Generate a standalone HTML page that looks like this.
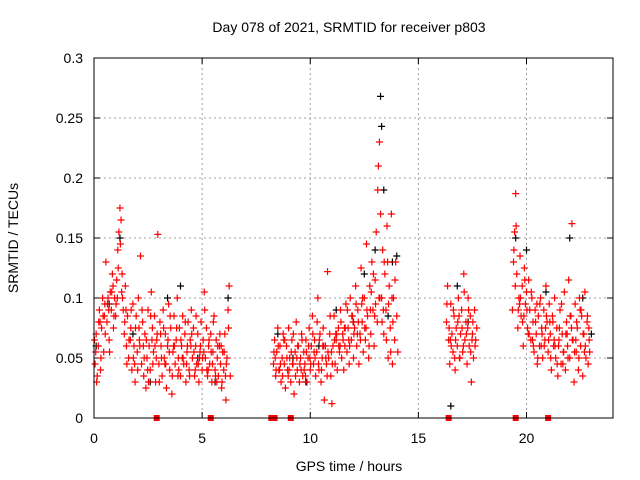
<!DOCTYPE html>
<html><head><meta charset="utf-8"><style>
html,body{margin:0;padding:0;background:#fff;}
svg{display:block;font-family:"Liberation Sans",sans-serif;}
</style></head><body>
<svg id="chart" width="640" height="480" viewBox="0 0 640 480" xmlns="http://www.w3.org/2000/svg">
<rect width="640" height="480" fill="#fff"/>
<text x="349" y="32" font-size="14" text-anchor="middle">Day 078 of 2021, SRMTID for receiver p803</text>
<text transform="translate(18,238) rotate(-90)" font-size="14" text-anchor="middle">SRMTID / TECUs</text>
<text x="349" y="471" font-size="14" text-anchor="middle">GPS time / hours</text>
<g id="grid"></g>
<g id="ticks"></g>
<g id="black"></g>
<g id="red"></g>
<g id="gaps"></g>
<rect x="94" y="58" width="519" height="360" fill="none" stroke="#000" stroke-width="1"/>
</svg>
<script>
const xTicks=[0,5,10,15,20];
const yTicks=[0,0.05,0.1,0.15,0.2,0.25,0.3];
const yTickLabels=["0","0.05","0.1","0.15","0.2","0.25","0.3"];
const redT=[0.05,0.1,0.15,0.2,0.25,0.3,0.35,0.4,0.45,0.5,0.55,0.6,0.65,0.7,0.75,0.8,0.85,0.9,0.95,1.0,1.05,1.1,1.15,1.2,1.25,1.3,1.35,1.4,1.45,1.5,1.55,1.6,1.7,1.75,1.8,1.85,1.9,1.95,2.0,2.05,2.1,2.15,2.2,2.25,2.3,2.35,2.4,2.45,2.5,2.55,2.6,2.65,2.7,2.75,2.8,2.85,2.9,2.95,3.0,3.05,3.1,3.15,3.2,3.25,3.3,3.35,3.4,3.45,3.5,3.55,3.6,3.65,3.7,3.75,3.8,3.85,3.9,3.95,4.0,4.05,4.1,4.15,4.2,4.25,4.3,4.35,4.4,4.45,4.5,4.55,4.6,4.65,4.7,4.75,4.8,4.85,4.9,4.95,5.0,5.05,5.1,5.15,5.2,5.25,5.3,5.35,5.4,5.45,5.5,5.55,5.6,5.65,5.7,5.75,5.8,5.85,5.9,5.95,6.0,6.05,6.1,6.15,6.2,6.25,6.3,
8.3,8.35,8.4,8.45,8.5,8.55,8.6,8.65,8.7,8.75,8.8,8.85,8.9,8.95,9.0,9.05,9.1,9.15,9.2,9.25,9.3,9.35,9.4,9.45,9.5,9.55,9.6,9.65,9.7,9.75,9.8,9.85,9.9,9.95,10.0,10.05,10.1,10.15,10.2,10.25,10.3,10.35,10.4,10.45,10.5,10.55,10.6,10.65,10.7,10.75,10.8,10.85,10.9,10.95,11.0,11.05,11.1,11.15,11.2,11.25,11.3,11.35,11.4,11.45,11.5,11.55,11.6,11.65,11.7,11.75,11.8,11.85,11.9,11.95,12.0,12.05,12.1,12.15,12.2,12.25,12.3,12.35,12.4,12.45,12.5,12.55,12.6,12.65,12.7,12.75,12.8,12.85,12.9,12.95,13.0,13.05,13.1,13.15,13.2,13.25,13.3,13.35,13.4,13.45,13.5,13.55,13.6,13.65,13.7,13.75,13.8,13.85,13.9,13.95,14.0,14.05,
16.3,16.35,16.4,16.45,16.5,16.55,16.6,16.65,16.7,16.75,16.8,16.85,16.9,16.95,17.0,17.05,17.1,17.15,17.2,17.25,17.3,17.35,17.4,17.45,17.5,17.55,17.6,17.65,17.7,
19.35,19.4,19.45,19.5,19.55,19.6,19.65,19.7,19.75,19.8,19.85,19.9,19.95,20.0,20.05,20.1,20.15,20.2,20.25,20.3,20.35,20.4,20.45,20.5,20.55,20.6,20.65,20.7,20.75,20.8,20.85,20.9,20.95,21.0,21.05,21.1,21.15,21.2,21.25,21.3,21.35,21.4,21.45,21.5,21.55,21.6,21.65,21.7,21.75,21.8,21.85,21.9,21.95,22.0,22.05,22.1,22.15,22.2,22.25,22.3,22.35,22.4,22.45,22.5,22.55,22.6,22.65,22.7,22.75,22.8,22.85,22.9];
const redV=[.045,.07,.035,.06,.09,.04,.075,.1,.055,.095,.13,.08,.1,.065,.105,.09,.12,.075,.1,.085,.115,.14,.155,.175,.165,.12,.09,.07,.11,.06,.085,.05,.075,.04,.095,.06,.03,.085,.055,.1,.065,.135,.045,.08,.035,.07,.025,.05,.09,.06,.04,.105,.075,.055,.085,.03,.065,.153,.045,.08,.06,.035,.09,.05,.07,.025,.06,.095,.04,.075,.02,.055,.085,.045,.065,.1,.05,.075,.035,.06,.085,.045,.07,.03,.055,.08,.04,.065,.09,.05,.075,.035,.06,.045,.07,.03,.055,.08,.04,.065,.105,.05,.075,.035,.06,.045,.07,.03,.055,.085,.04,.065,.05,.035,.06,.045,.025,.055,.04,.07,.015,.05,.09,.11,.035,
.045,.065,.035,.055,.075,.04,.06,.03,.05,.07,.045,.025,.06,.04,.075,.05,.03,.065,.045,.02,.055,.08,.04,.06,.03,.05,.07,.035,.055,.045,.065,.03,.05,.075,.04,.06,.085,.045,.065,.035,.055,.1,.04,.07,.03,.05,.075,.015,.06,.045,.122,.05,.07,.035,.012,.06,.085,.045,.065,.04,.075,.055,.09,.05,.07,.04,.06,.095,.055,.075,.045,.1,.065,.085,.05,.075,.11,.06,.09,.045,.07,.125,.08,.055,.1,.065,.145,.085,.05,.11,.07,.13,.09,.06,.115,.155,.08,.21,.23,.17,.1,.14,.07,.12,.09,.16,.05,.11,.075,.17,.045,.1,.065,.13,.085,.055,
.08,.11,.065,.045,.095,.07,.055,.085,.04,.075,.06,.1,.05,.07,.09,.055,.12,.065,.08,.045,.1,.06,.085,.03,.07,.05,.09,.065,.075,
.09,.13,.155,.187,.12,.075,.1,.135,.085,.11,.06,.125,.095,.105,.075,.115,.09,.065,.1,.08,.055,.09,.07,.045,.085,.06,.1,.075,.05,.09,.065,.11,.08,.055,.095,.07,.04,.085,.06,.1,.05,.075,.035,.065,.09,.045,.07,.055,.105,.04,.08,.06,.115,.05,.085,.162,.065,.03,.095,.055,.075,.04,.1,.06,.085,.035,.07,.105,.05,.08,.045,.065];
const red2T=[0.02,0.12,0.22,0.32,0.42,0.52,0.62,0.72,0.82,0.92,1.02,1.12,1.22,1.32,1.42,1.52,1.62,1.72,1.82,1.92,2.02,2.12,2.22,2.32,2.42,2.52,2.62,2.72,2.82,2.92,3.02,3.12,3.22,3.32,3.42,3.52,3.62,3.72,3.82,3.92,4.02,4.12,4.22,4.32,4.42,4.52,4.62,4.72,4.82,4.92,5.02,5.12,5.22,5.32,5.42,5.52,5.62,5.72,5.82,5.92,6.02,6.12,6.22,
8.32,8.42,8.52,8.62,8.72,8.82,8.92,9.02,9.12,9.22,9.32,9.42,9.52,9.62,9.72,9.82,9.92,10.02,10.12,10.22,10.32,10.42,10.52,10.62,10.72,10.82,10.92,11.02,11.12,11.22,11.32,11.42,11.52,11.62,11.72,11.82,11.92,12.02,12.12,12.22,12.32,12.42,12.52,12.62,12.72,12.82,12.92,13.02,13.12,13.22,13.32,13.42,13.52,13.62,13.72,13.82,13.92,
16.32,16.42,16.52,16.62,16.72,16.82,16.92,17.02,17.12,17.22,17.32,17.42,17.52,17.62,
19.42,19.52,19.62,19.72,19.82,19.92,20.02,20.12,20.22,20.32,20.42,20.52,20.62,20.72,20.82,20.92,21.02,21.12,21.22,21.32,21.42,21.52,21.62,21.72,21.82,21.92,22.02,22.12,22.22,22.32,22.42,22.52,22.62,22.72,22.82,22.92];
const red2V=[.065,.03,.08,.05,.085,.07,.095,.055,.105,.085,.095,.125,.145,.1,.08,.045,.065,.09,.05,.075,.04,.06,.09,.05,.065,.03,.085,.045,.06,.07,.03,.05,.075,.045,.065,.085,.035,.06,.075,.04,.065,.05,.08,.06,.035,.07,.055,.085,.045,.06,.05,.09,.04,.065,.055,.08,.035,.06,.07,.03,.055,.045,.075,
.055,.04,.06,.045,.035,.065,.05,.04,.055,.07,.035,.06,.045,.065,.04,.055,.06,.045,.07,.05,.08,.065,.04,.06,.05,.055,.085,.045,.065,.07,.06,.08,.065,.075,.09,.06,.085,.07,.095,.08,.065,.1,.075,.09,.06,.105,.12,.095,.19,.1,.08,.13,.065,.095,.055,.08,.115,
.095,.075,.06,.09,.065,.08,.05,.075,.105,.07,.09,.055,.08,.06,
.14,.16,.09,.1,.08,.115,.09,.07,.105,.06,.08,.05,.095,.07,.06,.085,.065,.05,.08,.06,.045,.075,.095,.055,.07,.05,.085,.065,.055,.08,.05,.09,.07,.06,.085,.055];
const red3T=[0.08,0.28,0.48,0.68,0.88,1.08,1.28,1.48,1.68,1.88,2.08,2.28,2.48,2.68,2.88,3.08,3.28,3.48,3.68,3.88,4.08,4.28,4.48,4.68,4.88,5.08,5.28,5.48,5.68,5.88,6.08,
8.38,8.58,8.78,8.98,9.18,9.38,9.58,9.78,9.98,10.18,10.38,10.58,10.78,10.98,11.18,11.38,11.58,11.78,11.98,12.18,12.38,12.58,12.78,12.98,13.18,13.38,13.58,13.78,
16.48,16.68,16.88,17.08,17.28,17.48,
19.48,19.68,19.88,20.08,20.28,20.48,20.68,20.88,21.08,21.28,21.48,21.68,21.88,22.08,22.28,22.48,22.68,22.88];
const red3V=[.055,.08,.085,.09,.11,.1,.105,.09,.065,.045,.075,.06,.04,.065,.05,.07,.045,.055,.06,.035,.05,.045,.06,.04,.05,.055,.04,.045,.03,.06,.035,
.05,.04,.065,.035,.045,.05,.04,.035,.05,.055,.045,.06,.035,.055,.07,.06,.075,.065,.08,.07,.095,.075,.09,.085,.1,.09,.13,.1,
.065,.05,.085,.06,.075,.065,
.11,.095,.085,.07,.065,.095,.06,.075,.08,.065,.06,.045,.07,.075,.065,.09,.055,.075];
const blackT=[0.1,0.7,1.2,1.8,2.6,3.4,4.0,4.8,5.6,6.2,8.5,9.2,9.8,10.4,11.2,12.0,12.5,13.0,13.25,13.3,13.4,13.6,13.8,14.0,16.5,16.8,17.3,19.5,20.0,20.9,22.0,22.6,23.0];
const blackV=[.06,.095,.15,.07,.03,.1,.11,.05,.03,.1,.07,.05,.03,.06,.09,.08,.12,.14,.268,.243,.19,.085,.13,.135,.01,.11,.08,.15,.14,.105,.15,.1,.07];
const gapT=[2.9,5.4,8.2,8.35,9.1,16.4,19.5,21.0];

const X0=94,X1=613,Y0=418,Y1=58,XMAX=24,YMAX=0.3;
const xs=t=>X0+(X1-X0)*t/XMAX;
const ys=v=>Y0-(Y0-Y1)*v/YMAX;
const NS="http://www.w3.org/2000/svg";
function mk(tag,attrs,parent){const e=document.createElementNS(NS,tag);for(const k in attrs)e.setAttribute(k,attrs[k]);parent.appendChild(e);return e;}
const grid=document.getElementById('grid'),ticks=document.getElementById('ticks');
yTicks.forEach((v,i)=>{
  const y=ys(v);
  if(v>0&&v<YMAX){const g=mk('line',{x1:X0,x2:X1,y1:y,y2:y,stroke:'#a0a0a0','stroke-dasharray':'2,3'},grid);
  
  }
  const t=mk('line',{x1:X0,x2:X0+6,y1:y,y2:y,stroke:'#000'},ticks);
  
  
  const t2=mk('line',{x1:X1-6,x2:X1,y1:y,y2:y,stroke:'#000'},ticks);
  
  
  const l=mk('text',{x:X0-11,y:y+5,'font-size':14,'text-anchor':'end'},ticks);
  l.textContent=yTickLabels[i];
  
  
});
xTicks.forEach(v=>{
  const x=xs(v);
  if(v>0){const g=mk('line',{x1:x,x2:x,y1:Y1,y2:Y0,stroke:'#a0a0a0','stroke-dasharray':'2,3'},grid);
  
  }
  const t=mk('line',{x1:x,x2:x,y1:Y0,y2:Y0-6,stroke:'#000'},ticks);
  
  
  const t2=mk('line',{x1:x,x2:x,y1:Y1,y2:Y1+6,stroke:'#000'},ticks);
  
  
  const l=mk('text',{x:x,y:Y0+25,'font-size':14,'text-anchor':'middle'},ticks);
  l.textContent=String(v);
  
  
});
function plus(g,t,v,color){
  const x=xs(t),y=ys(v);
  const p=mk('path',{d:`M${x-3.5} ${y}h7M${x} ${y-3.5}v7`,stroke:color,'stroke-width':1.2,fill:'none'},g);
  
  
}
const bg=document.getElementById('black'),rg=document.getElementById('red');
blackT.forEach((t,i)=>plus(bg,t,blackV[i],'#000'));
redT.forEach((t,i)=>plus(rg,t,redV[i],'#ff0000'));
red2T.forEach((t,i)=>plus(rg,t,red2V[i],'#ff0000'));
red3T.forEach((t,i)=>plus(rg,t,red3V[i],'#ff0000'));
const gg=document.getElementById('gaps');
gapT.forEach(t=>{
  const r=mk('rect',{x:xs(t)-3,y:Y0-3,width:6,height:6,fill:'#ff0000'},gg);
  
  
});
</script>
</body></html>
